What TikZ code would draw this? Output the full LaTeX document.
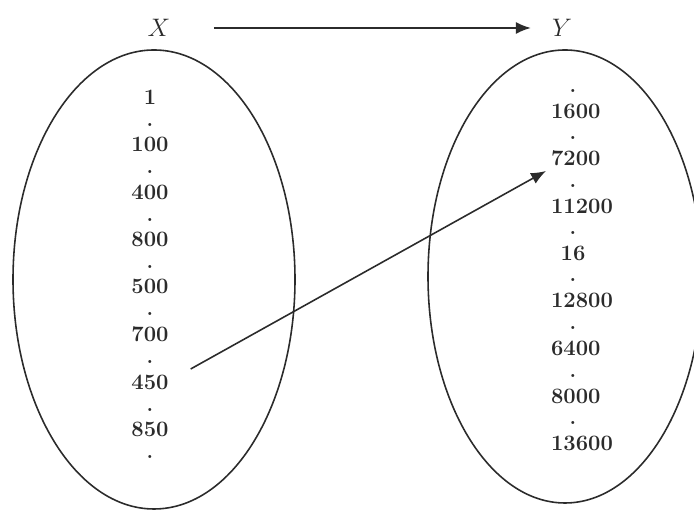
\documentclass[tikz,border=0pt]{standalone}
\usepackage{tikz}
\usetikzlibrary{arrows.meta, positioning, calc}
\definecolor{inkGray}{HTML}{2B2B2B}

\tikzset{
    setline/.style={draw=inkGray, line width=0.9pt},
    mapnum/.style={inkGray, font=\fontsize{12.5}{14}\selectfont\bfseries, inner sep=1pt},
    mapdot/.style={inkGray, font=\large\bfseries, inner sep=0.5pt}
}

\begin{document}
\begin{tikzpicture}
    % Marco de la figura
    \useasboundingbox (0,0) rectangle (13.88,10.2);
    \clip (0,0) rectangle (13.88,10.2);

    % Etiquetas de los conjuntos
    \node[inkGray, font=\Large] (X) at (3.18,9.64) {$X$};
    \node[inkGray, font=\Large] (Y) at (11.24,9.64) {$Y$};
    \draw[setline, -{Latex[length=3mm, width=2.4mm]}] ([xshift=0.75cm]X.east) -- ([xshift=-0.3cm]Y.west);

    % Conjuntos (ovalos)
    \draw[setline] (3.08,4.61) ellipse (2.82 and 4.59);
    \draw[setline] (11.30,4.67) ellipse (2.74 and 4.53);

    % Elementos de X (numero y punto debajo)
    \foreach \val/\yy [count=\i] in {1/8.26, 100/7.32, 400/6.36, 800/5.42, 500/4.48, 700/3.52, 450/2.56, 850/1.62} {
        \node[mapnum] (x\i) at (3.00,\yy) {\val};
        \node[mapdot] (xd\i) at (3.00,\yy-0.56) {.};
    }

    % Elementos de Y (punto encima y numero)
    \foreach \val/\yy/\anc/\xx [count=\i] in {1600/7.98/west/10.98, 7200/7.04/west/10.98, 11200/6.08/west/10.98,
        16/5.14/center/11.46, 12800/4.20/west/10.98, 6400/3.24/west/10.98, 8000/2.28/west/10.98, 13600/1.34/west/10.98} {
        \node[mapdot] (yd\i) at (11.46,\yy+0.40) {.};
        \node[mapnum, anchor=\anc] (y\i) at (\xx,\yy) {\val};
    }

    % Flecha de 450 hacia 7200
    \coordinate (from450) at ($(x7.east)+(0.4,0.26)$);
    \coordinate (to7200) at ($(y2.west)+(-0.06,-0.26)$);
    \draw[setline, -{Latex[length=3mm, width=2.4mm]}] (from450) -- (to7200);
\end{tikzpicture}
\end{document}
